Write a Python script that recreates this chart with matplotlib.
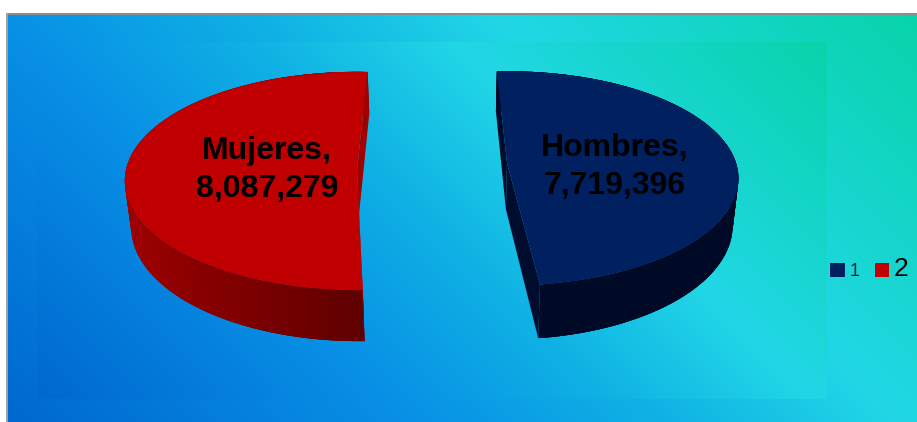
import numpy as np
import matplotlib
matplotlib.use("Agg")
import matplotlib.pyplot as plt
from matplotlib.colors import LinearSegmentedColormap
from matplotlib.transforms import Affine2D, Transform

# data
categories = ["Hombres", "Mujeres"]
values = [7719396, 8087279]
legend_labels = ["1", "2"]

colors = ["#002060", "#C00000"]

W, H = 917, 422
plt.rcParams["font.family"] = ["Liberation Sans", "DejaVu Sans"]

bg_map = LinearSegmentedColormap.from_list("bg", [
    (0.0, (0/255, 104/255, 208/255)),
    (0.31, (8/255, 145/255, 230/255)),
    (0.5, (16/255, 178/255, 228/255)),
    (0.68, (33/255, 215/255, 230/255)),
    (1.0, (8/255, 212/255, 170/255)),
])


class Persp(Transform):
    # flat disc -> tilted disc in pixels, nearer part gets bigger
    input_dims = 2
    output_dims = 2

    def __init__(self, cx, cy, a, b, k):
        super().__init__()
        self.cx, self.cy, self.a, self.b, self.k = cx, cy, a, b, k

    def project(self, u, v, z=0.0, depth=46):
        s = 1 + self.k * v
        x = self.cx + self.b * u / s
        # bottom of the pie pulls in towards the middle of the chart
        x = x + z * (450 - x) * 0.02
        return x, self.cy - (self.a * v - depth * z) / s

    def transform_non_affine(self, values):
        x, y = self.project(values[:, 0], values[:, 1])
        return np.column_stack([x, y])


def gradient(ax, x0, x1, y0, y1, zorder):
    xs, ys = np.meshgrid(np.arange(x0, x1) + 0.5, np.arange(y0, y1) + 0.5)
    d = xs - ys
    t = (d - (x0 - y1)) / ((x1 - y0) - (x0 - y1))
    ax.imshow(t, cmap=bg_map, vmin=0, vmax=1, extent=(x0, x1, y1, y0),
              aspect="auto", zorder=zorder, interpolation="bilinear")


fig = plt.figure(figsize=(W/100, H/100), dpi=100, facecolor="white")
ax = fig.add_axes([0, 0, 1, 1])

wedges, _ = ax.pie(values, colors=colors, startangle=92.9, counterclock=False,
                   wedgeprops={"linewidth": 0})

gradient(ax, 8, W, 15, H, 1)
gradient(ax, 37, 827, 42, 399, 2)
ax.fill_between([6, W], 13, 15, color="#8c8c8c", lw=0, zorder=3)
ax.fill_between([6, 8], 13, H, color="#a0a0a0", lw=0, zorder=3)

slices = [
    # position of each exploded slice, turned a little by hand for the red one
    {"proj": Persp(507, 163, 105, 229, 0.144), "rot": 0.0,
     "wall": ((0, 14/255, 56/255), (0, 9/255, 38/255)),
     "cut": ((0, 10/255, 42/255), (0, 12/255, 46/255))},
    {"proj": Persp(357, 170, 108, 231, 0.10), "rot": -5.8,
     "wall": ((160/255, 0, 0), (92/255, 0, 0)),
     "cut": ((160/255, 0, 0), (190/255, 0, 0))},
]

for w, s in zip(wedges, slices):
    p = s["proj"]
    w.set_transform(Affine2D().rotate_deg(s["rot"]) + p + ax.transData)
    w.set_zorder(7)
    w.set_clip_on(False)

    th = np.radians(np.linspace(w.theta1, w.theta2, 240) + s["rot"])
    u, v = np.cos(th), np.sin(th)

    # outer wall, shaded from left to right, pieces overlap so no seams show
    x0, y0 = p.project(u, v, 0)
    x1, y1 = p.project(u, v, 1)
    for i in range(len(th) - 1):
        f = np.clip((u[i] + 1) / 1.05, 0, 1)
        c = tuple(np.array(s["wall"][0]) * (1 - f) + np.array(s["wall"][1]) * f)
        j = min(i + 3, len(th) - 1)
        ax.fill(np.r_[x0[i:j+1], x1[i:j+1][::-1]], np.r_[y0[i:j+1], y1[i:j+1][::-1]],
                color=c, lw=0, zorder=5)

    # the two cut faces
    vx0, vy0 = p.project(0.0, 0.0, 0)
    vx1, vy1 = p.project(0.0, 0.0, 1)
    ends = [0, -1] if v[0] > 0 else [-1, 0]
    for j, e in enumerate(ends):
        ax.fill([x0[e], vx0, vx1, x1[e]], [y0[e], vy0, vy1, y1[e]],
                color=s["cut"][j], lw=0, zorder=6)

label_pos = [(615, 167), (267, 170)]
for name, val, pos in zip(categories, values, label_pos):
    ax.text(pos[0], pos[1], f"{name},\n{val:,}", ha="center", va="center",
            fontsize=23, fontweight="bold", color="black", linespacing=1.33, zorder=8)

leg = ax.legend(wedges, legend_labels, ncols=2, frameon=False, fontsize=13,
                handlelength=0.82, handleheight=0.82, handletextpad=0.25,
                columnspacing=0.85, loc="center left", borderpad=0, borderaxespad=0,
                bbox_to_anchor=(830/W, 1 - 269/H))
leg.set_zorder(9)
leg.get_texts()[0].set_color("#0f2a3a")
leg.get_texts()[1].set_fontsize(19)

ax.set_xlim(0, W)
ax.set_ylim(H, 0)
ax.set_aspect("auto")
ax.axis("off")

fig.savefig("out.png", dpi=100, facecolor="white")
